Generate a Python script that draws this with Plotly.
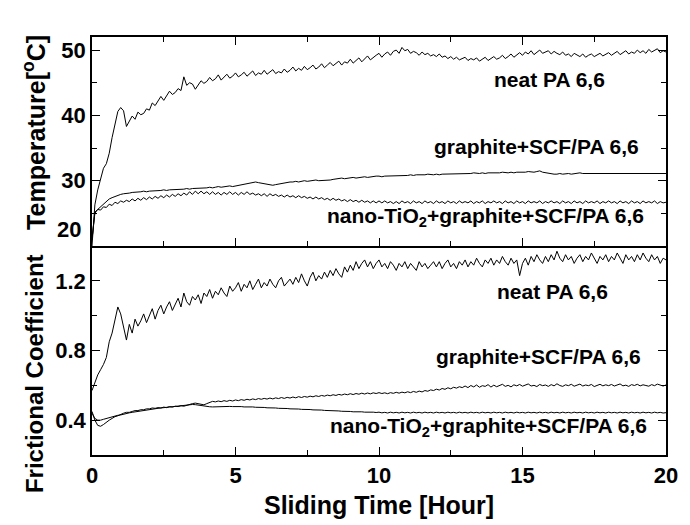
import plotly.graph_objects as go

# Sliding time [h], logged every 0.1 h
hours = [
    0.0, 0.1, 0.2, 0.3, 0.4, 0.5, 0.6, 0.7, 0.8, 0.9,
    1.0, 1.1, 1.2, 1.3, 1.4, 1.5, 1.6, 1.7, 1.8, 1.9,
    2.0, 2.1, 2.2, 2.3, 2.4, 2.5, 2.6, 2.7, 2.8, 2.9,
    3.0, 3.1, 3.2, 3.3, 3.4, 3.5, 3.6, 3.7, 3.8, 3.9,
    4.0, 4.1, 4.2, 4.3, 4.4, 4.5, 4.6, 4.7, 4.8, 4.9,
    5.0, 5.1, 5.2, 5.3, 5.4, 5.5, 5.6, 5.7, 5.8, 5.9,
    6.0, 6.1, 6.2, 6.3, 6.4, 6.5, 6.6, 6.7, 6.8, 6.9,
    7.0, 7.1, 7.2, 7.3, 7.4, 7.5, 7.6, 7.7, 7.8, 7.9,
    8.0, 8.1, 8.2, 8.3, 8.4, 8.5, 8.6, 8.7, 8.8, 8.9,
    9.0, 9.1, 9.2, 9.3, 9.4, 9.5, 9.6, 9.7, 9.8, 9.9,
    10.0, 10.1, 10.2, 10.3, 10.4, 10.5, 10.6, 10.7, 10.8, 10.9,
    11.0, 11.1, 11.2, 11.3, 11.4, 11.5, 11.6, 11.7, 11.8, 11.9,
    12.0, 12.1, 12.2, 12.3, 12.4, 12.5, 12.6, 12.7, 12.8, 12.9,
    13.0, 13.1, 13.2, 13.3, 13.4, 13.5, 13.6, 13.7, 13.8, 13.9,
    14.0, 14.1, 14.2, 14.3, 14.4, 14.5, 14.6, 14.7, 14.8, 14.9,
    15.0, 15.1, 15.2, 15.3, 15.4, 15.5, 15.6, 15.7, 15.8, 15.9,
    16.0, 16.1, 16.2, 16.3, 16.4, 16.5, 16.6, 16.7, 16.8, 16.9,
    17.0, 17.1, 17.2, 17.3, 17.4, 17.5, 17.6, 17.7, 17.8, 17.9,
    18.0, 18.1, 18.2, 18.3, 18.4, 18.5, 18.6, 18.7, 18.8, 18.9,
    19.0, 19.1, 19.2, 19.3, 19.4, 19.5, 19.6, 19.7, 19.8, 19.9,
    20.0,
]

# Frictional temperature [°C]
temp_neat = [
    20.0, 26.3, 28.6, 30.4, 31.9, 32.6, 34.2, 36.6, 38.7, 40.6,
    41.2, 40.7, 38.3, 39.2, 39.9, 39.4, 40.5, 40.1, 40.3, 41.0,
    40.8, 41.9, 41.5, 42.2, 42.9, 42.3, 43.0, 43.7, 43.2, 43.5,
    44.1, 43.8, 45.9, 44.6, 45.0, 44.8, 44.0, 44.7, 45.3, 44.9,
    45.2, 45.8, 45.3, 45.6, 46.2, 45.4, 45.9, 46.3, 45.7, 46.0,
    46.5, 45.9, 46.2, 46.6, 46.0, 46.4, 46.8, 46.1, 46.5, 46.3,
    46.9, 46.3, 46.6, 47.0, 46.4, 46.7, 46.5, 47.1, 46.6, 46.9,
    47.4, 46.8, 47.2, 46.9, 47.5, 47.0, 47.3, 47.7, 47.1, 47.4,
    47.9, 47.3, 47.7, 48.1, 47.6, 47.9, 48.3, 47.7, 48.2, 48.0,
    48.6, 48.0, 48.4, 48.8, 48.2, 48.7, 49.1, 48.5, 48.9, 49.2,
    49.5, 48.9, 49.4, 49.7, 49.2, 49.8, 50.0, 49.5, 50.4, 49.9,
    50.1, 49.5, 49.8, 49.6, 49.2, 49.7, 49.3, 49.5, 49.1, 49.3,
    49.0, 49.4, 48.9, 49.1, 48.7, 49.0, 48.6, 48.9, 48.5, 48.7,
    48.9, 48.4, 48.7, 48.5, 48.8, 48.3, 48.6, 48.9, 48.4, 48.7,
    49.0, 48.6, 48.8, 49.2, 48.7, 49.0, 49.4, 48.9, 49.3, 49.6,
    49.2, 49.7, 49.4, 49.9, 49.3, 49.6, 50.0, 49.5, 49.7, 49.9,
    49.4, 49.8, 49.5, 49.3, 49.7, 49.2, 49.4, 49.0, 49.5, 49.2,
    49.0, 49.4, 48.9, 49.2, 49.4, 49.0, 49.3, 49.5, 49.1, 49.4,
    49.6, 49.2, 49.5, 49.8, 49.3, 49.6, 49.9, 49.4, 49.7, 49.5,
    50.0, 49.6, 49.9, 49.5, 50.1, 49.7, 49.9, 50.2, 49.6, 49.9,
    49.7,
]

temp_graphite = [
    21.0, 25.2, 25.6, 26.0, 26.5, 26.9, 27.2, 27.4, 27.6, 27.8,
    27.9, 28.0, 28.0, 28.1, 28.2, 28.2, 28.3, 28.3, 28.4, 28.3,
    28.4, 28.4, 28.5, 28.4, 28.5, 28.6, 28.5, 28.6, 28.6, 28.7,
    28.7, 28.6, 28.7, 28.8, 28.7, 28.8, 28.8, 28.9, 28.8, 28.9,
    28.9, 29.0, 28.9, 29.0, 29.1, 29.0, 29.1, 29.1, 29.2, 29.1,
    29.2, 29.3, 29.3, 29.4, 29.5, 29.6, 29.7, 29.8, 29.7, 29.6,
    29.5, 29.4, 29.3, 29.3, 29.4, 29.5, 29.6, 29.6, 29.7, 29.8,
    29.8, 29.9, 29.8, 29.9, 30.0, 29.9, 30.0, 30.0, 30.1, 30.0,
    30.0, 30.1, 30.0, 30.1, 30.2, 30.3, 30.3, 30.4, 30.3, 30.4,
    30.4, 30.5, 30.4, 30.5, 30.5, 30.6, 30.5, 30.6, 30.6, 30.7,
    30.7, 30.6, 30.7, 30.7, 30.8, 30.7, 30.8, 30.8, 30.7, 30.8,
    30.8, 30.9, 30.8, 30.9, 30.9, 30.8, 30.9, 31.0, 30.9, 30.9,
    31.0, 30.9, 31.0, 31.0, 31.1, 31.0, 31.0, 31.1, 31.0, 31.1,
    31.1, 31.0, 31.1, 31.2, 31.1, 31.1, 31.2, 31.1, 31.2, 31.2,
    31.1, 31.2, 31.2, 31.3, 31.2, 31.2, 31.3, 31.2, 31.3, 31.3,
    31.2, 31.3, 31.4, 31.3, 31.3, 31.4, 31.5, 31.3, 31.2, 31.2,
    31.1, 31.0, 31.0, 31.1, 31.0, 31.1, 31.1, 31.0, 31.1, 31.1,
    31.2, 31.1, 31.1, 31.2, 31.1, 31.2, 31.1, 31.2, 31.2, 31.1,
    31.2, 31.1, 31.2, 31.2, 31.1, 31.2, 31.1, 31.2, 31.1, 31.2,
    31.2, 31.1, 31.2, 31.1, 31.2, 31.1, 31.2, 31.1, 31.2, 31.1,
    31.1,
]

temp_nano = [
    21.0, 25.0, 25.6, 25.5, 26.0, 25.9, 26.4, 26.2, 26.7, 26.5,
    26.9, 26.7, 27.0, 26.8, 27.2, 26.9, 27.3, 27.0, 27.4, 27.1,
    27.5, 27.2, 27.6, 27.3, 27.7, 27.4, 27.8, 27.5, 27.9, 27.6,
    28.0, 27.7, 28.1, 27.8, 28.3, 27.9, 28.4, 28.0, 28.4, 28.0,
    28.3, 27.9, 28.3, 27.9, 28.2, 27.8, 28.2, 27.9, 28.3, 27.9,
    28.2, 27.8, 28.2, 27.9, 28.3, 27.9, 28.1, 27.8, 28.0, 27.7,
    28.0, 27.6, 28.0, 27.7, 27.9, 27.6, 27.8, 27.5, 27.8, 27.5,
    27.7, 27.4, 27.7, 27.4, 27.6, 27.3, 27.5, 27.2, 27.5, 27.2,
    27.4, 27.1, 27.3, 27.0, 27.3, 27.0, 27.2, 26.9, 27.1, 26.8,
    27.1, 26.8, 27.0, 26.7, 27.0, 26.7, 26.9, 26.6, 26.9, 26.6,
    26.9, 26.6, 26.9, 26.6, 26.8, 26.5, 26.8, 26.5, 26.9, 26.6,
    26.8, 26.5, 26.9, 26.6, 26.8, 26.5, 26.9, 26.6, 26.8, 26.5,
    26.9, 26.6, 26.8, 26.5, 26.9, 26.6, 26.8, 26.5, 26.9, 26.6,
    26.8, 26.6, 26.9, 26.5, 26.8, 26.6, 26.9, 26.5, 26.8, 26.6,
    26.9, 26.6, 26.8, 26.5, 26.9, 26.6, 26.8, 26.5, 26.9, 26.6,
    26.8, 26.5, 26.9, 26.6, 26.8, 26.6, 26.9, 26.5, 26.8, 26.6,
    26.9, 26.6, 26.8, 26.5, 26.9, 26.6, 26.8, 26.5, 26.9, 26.6,
    26.8, 26.5, 26.9, 26.6, 26.8, 26.6, 26.9, 26.5, 26.8, 26.6,
    26.9, 26.6, 26.8, 26.5, 26.9, 26.6, 26.8, 26.5, 26.9, 26.6,
    26.8, 26.5, 26.9, 26.6, 26.8, 26.6, 26.9, 26.5, 26.8, 26.6,
    26.7,
]

# Frictional coefficient
mu_neat = [
    0.57, 0.62, 0.66, 0.69, 0.72, 0.76, 0.85, 0.90, 0.98, 1.05,
    1.01, 0.93, 0.86, 0.95, 0.90, 0.98, 0.94, 0.97, 1.01, 0.96,
    1.00, 1.04, 0.98, 1.03, 1.06, 1.01, 1.05, 1.08, 1.03, 1.07,
    1.10, 1.05, 1.13, 1.08, 1.06, 1.11, 1.09, 1.12, 1.07, 1.13,
    1.11, 1.15, 1.10, 1.14, 1.12, 1.16, 1.13, 1.11, 1.17, 1.14,
    1.16, 1.19, 1.14, 1.18, 1.16, 1.20, 1.15, 1.18, 1.21, 1.16,
    1.19, 1.17, 1.21, 1.18, 1.16, 1.20, 1.22, 1.17, 1.19, 1.21,
    1.18, 1.22, 1.19, 1.24, 1.20, 1.17, 1.22, 1.25, 1.20, 1.23,
    1.21, 1.25, 1.22, 1.26, 1.23, 1.27, 1.24, 1.22, 1.28, 1.25,
    1.29, 1.26, 1.31, 1.27, 1.30, 1.32, 1.28, 1.31, 1.27, 1.30,
    1.32, 1.28, 1.30, 1.27, 1.31, 1.29, 1.26, 1.30, 1.28, 1.31,
    1.27, 1.30, 1.28, 1.26, 1.31, 1.28, 1.30, 1.27, 1.29, 1.31,
    1.28, 1.31, 1.27, 1.30, 1.32, 1.28, 1.30, 1.27, 1.31, 1.29,
    1.32, 1.28, 1.31, 1.29, 1.33, 1.30, 1.28, 1.32, 1.30, 1.33,
    1.29, 1.32, 1.30, 1.34, 1.31, 1.29, 1.33, 1.30, 1.32, 1.23,
    1.30, 1.33, 1.29, 1.34, 1.31, 1.35, 1.32, 1.30, 1.34, 1.31,
    1.35, 1.32, 1.37, 1.33, 1.31, 1.35, 1.32, 1.34, 1.30, 1.33,
    1.35, 1.31, 1.34, 1.32, 1.36, 1.33, 1.30, 1.34, 1.32, 1.35,
    1.31, 1.34, 1.32, 1.36, 1.33, 1.30, 1.35, 1.32, 1.34, 1.31,
    1.35, 1.32, 1.36, 1.33, 1.31, 1.35, 1.32, 1.34, 1.30, 1.33,
    1.32,
]

mu_graphite = [
    0.45, 0.40, 0.37, 0.365, 0.375, 0.39, 0.40, 0.41, 0.42, 0.425,
    0.435, 0.44, 0.445, 0.445, 0.45, 0.455, 0.455, 0.46, 0.46, 0.465,
    0.465, 0.47, 0.468, 0.472, 0.47, 0.475, 0.472, 0.478, 0.475, 0.48,
    0.478, 0.483, 0.48, 0.486, 0.49, 0.495, 0.498, 0.494, 0.49, 0.488,
    0.495, 0.502, 0.508, 0.505, 0.51, 0.506, 0.512, 0.508, 0.514, 0.51,
    0.516, 0.512, 0.518, 0.514, 0.52, 0.516, 0.522, 0.518, 0.524, 0.52,
    0.525, 0.521, 0.527, 0.522, 0.528, 0.524, 0.53, 0.525, 0.531, 0.527,
    0.533, 0.528, 0.535, 0.53, 0.536, 0.532, 0.538, 0.534, 0.54, 0.536,
    0.542, 0.538, 0.544, 0.54, 0.546, 0.542, 0.548, 0.544, 0.55, 0.546,
    0.552, 0.547, 0.553, 0.549, 0.555, 0.55, 0.556, 0.551, 0.557, 0.553,
    0.558, 0.553, 0.557, 0.552, 0.558, 0.554, 0.56, 0.555, 0.561, 0.557,
    0.563, 0.558, 0.565, 0.56, 0.567, 0.562, 0.57, 0.566, 0.574, 0.57,
    0.578, 0.573, 0.582, 0.577, 0.586, 0.58, 0.589, 0.584, 0.592, 0.587,
    0.596, 0.587, 0.599, 0.591, 0.602, 0.589, 0.598, 0.594, 0.604, 0.590,
    0.601, 0.592, 0.598, 0.606, 0.594, 0.600, 0.591, 0.603, 0.597, 0.605,
    0.595, 0.602, 0.608, 0.596, 0.600, 0.593, 0.605, 0.598, 0.602, 0.594,
    0.604, 0.597, 0.609, 0.599, 0.594, 0.603, 0.598, 0.606, 0.595, 0.601,
    0.607, 0.596, 0.602, 0.598, 0.605, 0.593, 0.600, 0.606, 0.597, 0.603,
    0.598, 0.605, 0.596, 0.602, 0.608, 0.597, 0.601, 0.594, 0.604, 0.599,
    0.606, 0.597, 0.603, 0.599, 0.595, 0.604, 0.598, 0.607, 0.600, 0.596,
    0.602,
]

mu_nano = [
    0.44, 0.41, 0.40, 0.40, 0.405, 0.41, 0.415, 0.42, 0.425, 0.428,
    0.43, 0.435, 0.438, 0.442, 0.445, 0.448, 0.451, 0.454, 0.456, 0.459,
    0.461, 0.464, 0.466, 0.468, 0.47, 0.472, 0.474, 0.476, 0.477, 0.479,
    0.481, 0.483, 0.485, 0.487, 0.489, 0.49, 0.489, 0.486, 0.483, 0.481,
    0.479, 0.477, 0.476, 0.477, 0.478, 0.477, 0.479, 0.478, 0.479, 0.478,
    0.479, 0.477, 0.478, 0.476, 0.477, 0.475, 0.476, 0.474, 0.475, 0.473,
    0.473, 0.471, 0.472, 0.47, 0.47, 0.468, 0.469, 0.467, 0.467, 0.465,
    0.466, 0.464, 0.464, 0.462, 0.463, 0.461, 0.461, 0.459, 0.46, 0.458,
    0.458, 0.456, 0.456, 0.454, 0.455, 0.453, 0.453, 0.451, 0.452, 0.45,
    0.45, 0.448, 0.449, 0.447, 0.448, 0.446, 0.447, 0.445, 0.446, 0.444,
    0.446, 0.442, 0.445, 0.441, 0.446, 0.442, 0.445, 0.441, 0.446, 0.442,
    0.445, 0.441, 0.446, 0.442, 0.445, 0.441, 0.446, 0.442, 0.445, 0.441,
    0.446, 0.442, 0.445, 0.441, 0.446, 0.442, 0.445, 0.441, 0.446, 0.442,
    0.445, 0.441, 0.446, 0.442, 0.445, 0.441, 0.446, 0.442, 0.445, 0.441,
    0.446, 0.442, 0.445, 0.441, 0.446, 0.442, 0.445, 0.441, 0.446, 0.442,
    0.445, 0.441, 0.446, 0.442, 0.445, 0.441, 0.446, 0.442, 0.445, 0.441,
    0.446, 0.442, 0.445, 0.441, 0.446, 0.442, 0.445, 0.441, 0.446, 0.442,
    0.445, 0.441, 0.446, 0.442, 0.445, 0.441, 0.446, 0.442, 0.445, 0.441,
    0.446, 0.442, 0.445, 0.441, 0.446, 0.442, 0.445, 0.441, 0.446, 0.442,
    0.445, 0.441, 0.446, 0.442, 0.445, 0.441, 0.446, 0.442, 0.445, 0.441,
    0.443,
]

series_names = ["neat PA 6,6", "graphite+SCF/PA 6,6", "nano-TiO<sub>2</sub>+graphite+SCF/PA 6,6"]
temp_ticks = [20, 30, 40, 50]
mu_ticks = [0.4, 0.8, 1.2]

FONT = "Liberation Sans, Arial, sans-serif"
LINE = dict(color="black", width=1.0)

fig = go.Figure()

# upper panel: temperature
for ys in (temp_neat, temp_graphite, temp_nano):
    fig.add_trace(go.Scatter(x=hours, y=ys, mode="lines", line=LINE,
                             xaxis="x2", yaxis="y2", showlegend=False))
# lower panel: frictional coefficient
for ys in (mu_neat, mu_graphite, mu_nano):
    fig.add_trace(go.Scatter(x=hours, y=ys, mode="lines", line=LINE,
                             xaxis="x", yaxis="y", showlegend=False))

tickfont = dict(family=FONT, size=22, color="black", weight="bold")
common_ax = dict(showline=True, linecolor="black", linewidth=1.5, ticks="inside",
                 ticklen=8, tickwidth=1.3, tickcolor="black", showgrid=False,
                 zeroline=False, tickfont=tickfont)
minor_ax = dict(ticks="inside", ticklen=5, tickwidth=1.3, tickcolor="black", showgrid=False)

fig.update_layout(
    width=690, height=525,
    margin=dict(l=92, r=13, t=37, b=70),
    paper_bgcolor="white", plot_bgcolor="white",
    xaxis=dict(domain=[0, 1], anchor="y", range=[0, 20], dtick=5, tick0=0,
               mirror=False, minor=dict(dtick=2.5, **minor_ax), **common_ax),
    yaxis=dict(domain=[0, 0.5], anchor="x", range=[0.2, 1.4],
               tickvals=mu_ticks, ticktext=[f"{v:.1f}" for v in mu_ticks],
               mirror="ticks", minor=dict(tickvals=[0.6, 1.0], **minor_ax), **common_ax),
    xaxis2=dict(domain=[0, 1], anchor="y2", range=[0, 20], dtick=5, tick0=0,
                matches="x", showticklabels=False, mirror="ticks",
                minor=dict(dtick=2.5, **minor_ax), **common_ax),
    # the lowest label (20) is lifted above the panel divider below
    yaxis2=dict(domain=[0.5, 1], anchor="x2", range=[20, 52],
                tickvals=temp_ticks, ticktext=[""] + [str(v) for v in temp_ticks[1:]],
                mirror="ticks", minor=dict(dtick=5, **minor_ax), **common_ax),
)

fig.add_annotation(text=str(temp_ticks[0]), x=0, y=temp_ticks[0], xref="paper", yref="y2",
                   xanchor="right", yanchor="middle", xshift=-9, yshift=17,
                   showarrow=False, font=tickfont)

lab_font = dict(family=FONT, size=21, color="black", weight="bold")
labels = [
    (series_names[0], 15.95, 45.5, "x2", "y2"),
    (series_names[1], 15.5, 35.2, "x2", "y2"),
    (series_names[2], 13.7, 24.4, "x2", "y2"),
    (series_names[0], 16.05, 1.136, "x", "y"),
    (series_names[1], 15.55, 0.765, "x", "y"),
    (series_names[2], 13.8, 0.36, "x", "y"),
]
for text, xv, yv, xr, yr in labels:
    fig.add_annotation(text=text, x=xv, y=yv, xref=xr, yref=yr, showarrow=False,
                       xanchor="center", yanchor="middle", font=lab_font)

title_font = dict(family=FONT, size=25, color="black", weight="bold")
fig.add_annotation(text="Sliding Time [Hour]", xref="paper", yref="paper",
                   x=0.5, y=-0.12, xanchor="center", yanchor="middle",
                   showarrow=False, font=title_font)
fig.add_annotation(text="Frictional Coefficient", xref="paper", yref="paper",
                   x=-0.1, y=0.195, xanchor="center", yanchor="middle",
                   textangle=-90, showarrow=False, font=dict(title_font, size=24))
fig.add_annotation(text="Temperature[<sup>o</sup>C]", xref="paper", yref="paper",
                   x=-0.1, y=0.772, xanchor="center", yanchor="middle",
                   textangle=-90, showarrow=False, font=title_font)

fig.write_html("out.html")
